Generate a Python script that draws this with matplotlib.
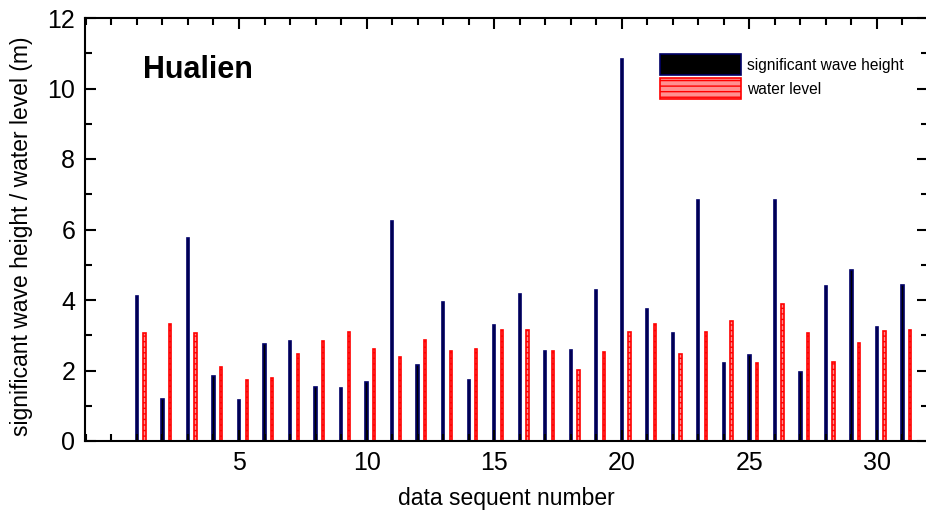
import matplotlib
matplotlib.use("Agg")
import matplotlib.pyplot as plt
import numpy as np
from matplotlib.ticker import MultipleLocator

plt.rcParams['font.family'] = ['Liberation Sans', 'DejaVu Sans']
plt.rcParams['hatch.linewidth'] = 1.0

seq = list(range(1, 32))
wave_height = [4.11, 1.19, 5.76, 1.84, 1.16, 2.75, 2.84, 1.53, 1.50, 1.67,
               6.24, 2.15, 3.95, 1.73, 3.28, 4.16, 2.54, 2.58, 4.27, 10.83,
               3.75, 3.07, 6.84, 2.22, 2.45, 6.83, 1.97, 4.41, 4.86, 3.24, 4.43]
water_level = [3.06, 3.32, 3.06, 2.10, 1.73, 1.79, 2.47, 2.84, 3.09, 2.61,
               2.38, 2.87, 2.55, 2.60, 3.14, 3.16, 2.56, 2.01, 2.52, 3.09,
               3.32, 2.46, 3.08, 3.40, 2.20, 3.88, 3.05, 2.24, 2.78, 3.13, 3.15]

W, H = 926, 513
fig = plt.figure(figsize=(W/100, H/100), dpi=100)
ax = fig.add_axes([85/W, (H-441)/H, (928-85)/W, (441-18)/H])

x = np.array(seq, dtype=float)
ax.bar(x, wave_height, width=0.09, color='black', edgecolor='#000066',
       linewidth=1.2, label='significant wave height')
ax.bar(x + 0.3, water_level, width=0.09, color='#ff9090', edgecolor='red',
       linewidth=1.2, hatch='---', label='water level')

ax.set_xlim(-1.035, 32.0)
ax.set_ylim(0, 12)
ax.xaxis.set_minor_locator(MultipleLocator(1))
ax.yaxis.set_major_locator(MultipleLocator(2))
ax.yaxis.set_minor_locator(MultipleLocator(1))
ax.set_xticks([5, 10, 15, 20, 25, 30])
ax.tick_params(axis='both', which='both', direction='in', top=True, right=True,
               labelsize=18, width=1.5)
ax.tick_params(axis='both', which='major', length=8, pad=7)
ax.tick_params(axis='both', which='minor', length=5)
for s in ax.spines.values():
    s.set_linewidth(1.5)

ax.set_xlabel('data sequent number', fontsize=16.5, labelpad=9)
ax.set_ylabel('significant wave height / water level (m)', fontsize=16.5)
ax.yaxis.set_label_coords(-0.062, 0.485)

fig.text(143/W, 1 - 70/H, 'Hualien', fontsize=22, fontweight='bold',
         ha='left', va='center')

leg = ax.legend(loc='upper left', bbox_to_anchor=((654-85)/(928-85), 1 - (48-18)/(441-18)),
                frameon=False, fontsize=11.2, handlelength=5.2, handleheight=1.7,
                handletextpad=0.35, labelspacing=0.2, borderaxespad=0)

fig.savefig('out.png', dpi=100)
